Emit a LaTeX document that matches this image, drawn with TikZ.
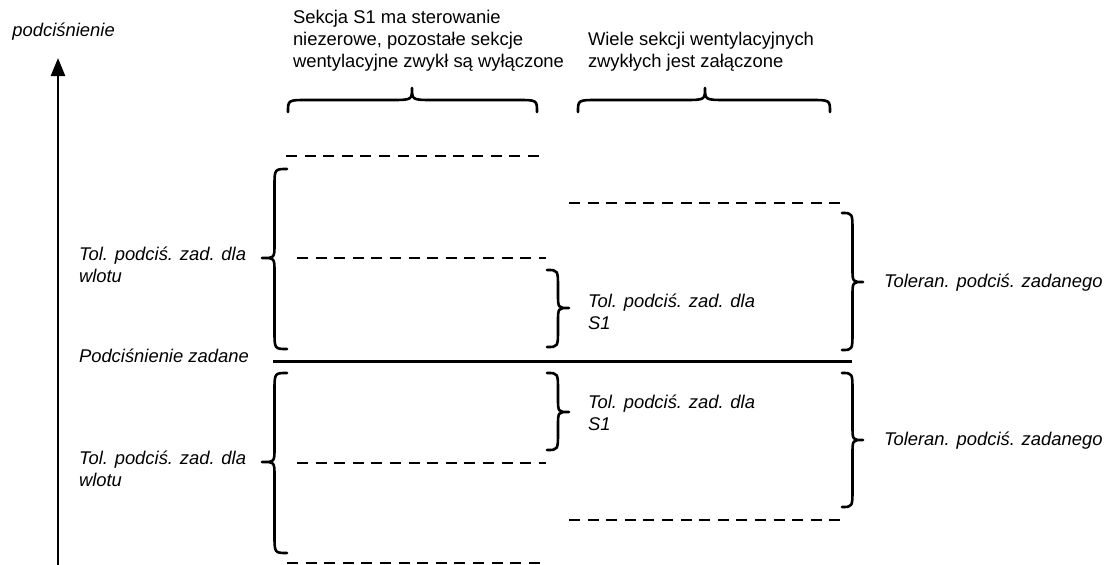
\documentclass[tikz,border=0pt]{standalone}
\usepackage{fontspec}
\setmainfont{Liberation Sans}
\usetikzlibrary{arrows.meta}
\tikzset{
  lbl/.style={inner sep=0pt, outer sep=0pt, anchor=base west, font=\fontsize{18.4}{22}\selectfont, text=black},
  ilbl/.style={lbl, font=\fontsize{18.4}{22}\selectfont\itshape},
  bracestyle/.style={line width=2.6pt, line join=round, line cap=round},
  dashline/.style={line width=2.8pt, dash pattern=on 11pt off 7.6pt},
  solidline/.style={line width=3pt},
  axisline/.style={line width=2.6pt, -{Triangle[length=18pt,width=14pt]}}
}
\newcommand{\myvbrace}[5]{% #1 x of ends, #2 x of tip, #3 y top, #4 y bottom, #5 y tip
  \pgfmathsetmacro{\bxm}{(#1+#2)/2}
  \draw[bracestyle] (#1,#3) .. controls (\bxm,#3) .. (\bxm,#3+18)
     -- (\bxm,#5-14) .. controls (\bxm,#5) .. (#2,#5)
     .. controls (\bxm,#5) .. (\bxm,#5+14)
     -- (\bxm,#4-18) .. controls (\bxm,#4) .. (#1,#4);
}
\newcommand{\myhbrace}[5]{% #1 x left, #2 x right, #3 y of ends, #4 x tip, #5 y tip
  \pgfmathsetmacro{\bym}{(#3+#5)/2}
  \draw[bracestyle] (#1,#3) .. controls (#1,\bym) .. (#1+20,\bym)
     -- (#4-22,\bym) .. controls (#4,\bym) .. (#4,#5)
     .. controls (#4,\bym) .. (#4+22,\bym)
     -- (#2-20,\bym) .. controls (#2,\bym) .. (#2,#3);
}
\begin{document}
\begin{tikzpicture}[x=1pt,y=-1pt]
\useasboundingbox (0,0) rectangle (1104,565);

% axis
\coordinate (axbot) at (58,566);
\coordinate (axtop) at (58,58);
\draw[axisline] (axbot) -- (axtop);
\node[ilbl] (ylab) at (12.5,36) {podciśnienie};

% top texts
\node[lbl] (sek) at (293,23) {\vtop{\hbox{Sekcja S1 ma sterowanie}\hbox{niezerowe, pozostałe sekcje}\hbox{wentylacyjne zwykł są wyłączone}}};
\node[lbl] (wiele) at (588,45) {\vtop{\hbox{Wiele sekcji wentylacyjnych}\hbox{zwykłych jest załączone}}};

% top braces
\myhbrace{288}{537}{112}{412}{88}
\myhbrace{578}{830}{112}{705}{88}

% dashed levels
\draw[dashline] (286,156) -- (540,156);
\draw[dashline] (297,258) -- (546,258);
\draw[dashline] (569,203) -- (841,203);
\draw[dashline] (297,463) -- (546,463);
\draw[dashline] (569,520) -- (841,520);
\draw[dashline] (287,563) -- (540,563);

% setpoint line
\draw[solidline] (273,361) -- (852,361);
\node[ilbl] (zad) at (79,362) {Podciśnienie zadane};

% upper braces
\myvbrace{287}{262}{169}{349}{258}
\myvbrace{547}{569}{270}{347}{308}
\myvbrace{842}{863}{213}{350}{282}
% lower braces
\myvbrace{287}{262}{373}{553}{462}
\myvbrace{547}{569}{373}{450}{412}
\myvbrace{842}{863}{373}{507}{440}

% labels
\node[ilbl] (wl1) at (79,260) {\vtop{\hbox{Tol. podciś. zad. dla}\hbox{wlotu}}};
\node[ilbl] (s11) at (588,307) {\vtop{\hbox{Tol. podciś. zad. dla}\hbox{S1}}};
\node[ilbl] (tz1) at (884,287) {Toleran. podciś. zadanego};
\node[ilbl] (wl2) at (79,464) {\vtop{\hbox{Tol. podciś. zad. dla}\hbox{wlotu}}};
\node[ilbl] (s12) at (588,408) {\vtop{\hbox{Tol. podciś. zad. dla}\hbox{S1}}};
\node[ilbl] (tz2) at (884,445) {Toleran. podciś. zadanego};
\end{tikzpicture}
\end{document}
